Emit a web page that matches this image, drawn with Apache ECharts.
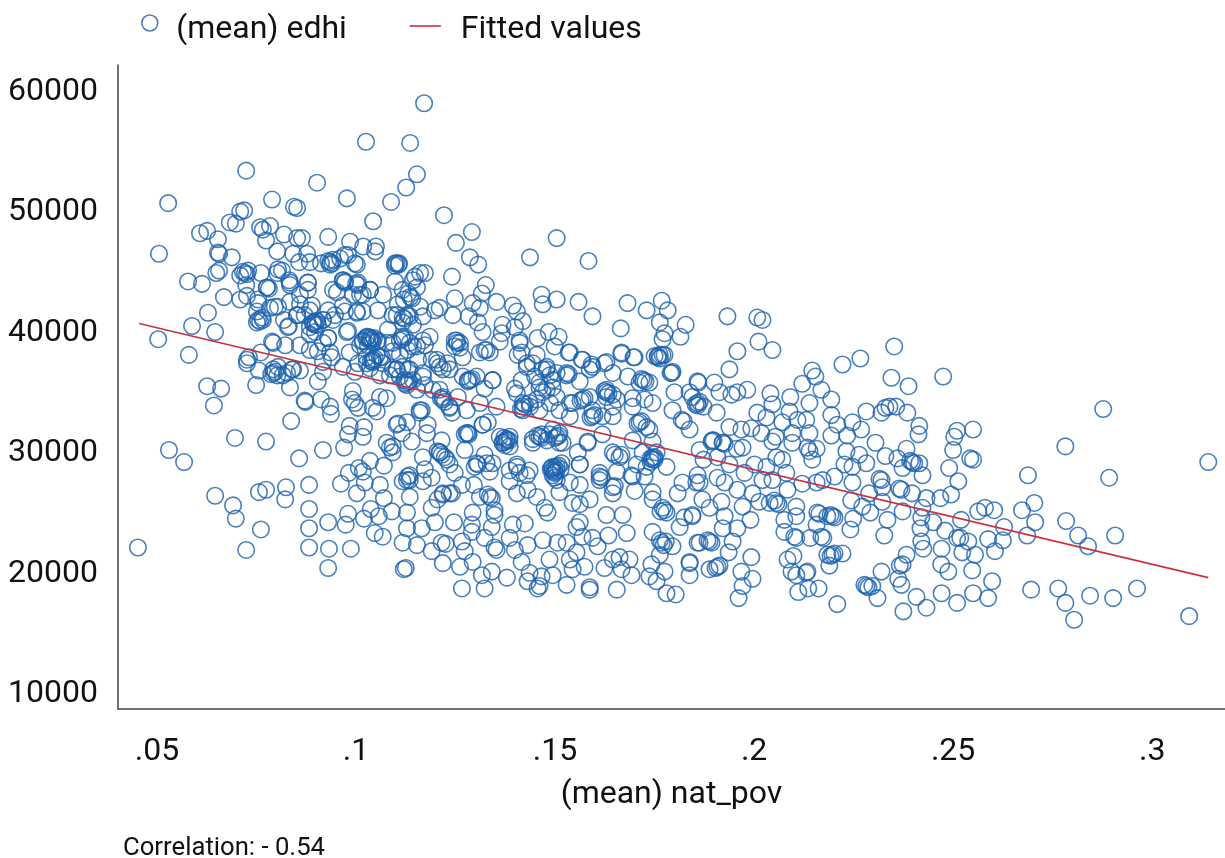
<!DOCTYPE html>
<html><head><meta charset="utf-8">
<style>html,body{margin:0;padding:0;background:#fff}#c{width:1225px;height:858px}</style>
<script src="https://cdn.jsdelivr.net/npm/echarts@6/dist/echarts.min.js"></script></head>
<body><div id="c"></div>
<script>
const xTicks=[.05,.1,.15,.2,.25,.3];
const yTicks=[10000,20000,30000,40000,50000,60000];
const fitted=[[.0455,40600],[.3141,19500]];
const farLeft=[[.0452,22000],[.0503,39300],[.0505,46400],[.0528,50600],[.053,30100],[.0568,29100],[.0578,44100],[.058,38000],[.0588,40400],[.0608,48100],[.0613,43900],[.0626,48300],[.0626,35400],[.0628,41500],[.0646,39900],[.0646,26300],[.0643,33800],[.0653,47600],[.0653,46500],[.0656,46400],[.0656,45000],[.0649,44800],[.0661,35200],[.0668,42800],[.0691,25500],[.0688,46100],[.0696,31100],[.0698,24400],[.0683,49000],[.0698,48900],[.0709,49900],[.0719,50000],[.0724,21800],[.0724,53300]];
const topLeft=[[.0759,48600],[.0766,48400],[.0784,48700],[.0774,47500],[.0789,50900],[.0819,48000],[.0844,50300],[.0852,50200],[.0852,47700],[.0864,47700],[.0902,52300],[.093,47800],[.0802,46600],[.0842,46400],[.0877,46400],[.0857,45700],[.0884,45700],[.0912,45600],[.0942,45900],[.0935,45500],[.096,46000],[.098,46300],[.0997,45600],[.0985,47400],[.1018,47000],[.105,47000],[.1048,46600],[.0977,51000],[.1025,55700],[.1136,55600],[.1088,50700],[.1126,51900],[.1043,49100],[.1153,53000],[.1171,58900],[.1098,45600],[.1108,45600],[.1098,45400],[.1098,44100],[.0709,44600],[.0729,45000],[.0724,43800],[.0761,44800],[.0776,43600],[.0802,44800],[.0814,45000],[.0832,44200],[.0834,43800],[.0879,44000],[.0879,43400],[.0942,43400],[.0967,44200],[.0972,44000],[.1005,43800],[.1035,43400],[.1068,43000],[.1131,43100],[.1148,44500],[.1161,44800],[.1173,44800],[.0709,42600],[.0726,42900],[.0751,41600],[.0819,40900],[.0834,42400],[.0859,42200],[.0871,41300],[.093,41700],[.0972,41600],[.101,43000],[.1055,41700],[.108,40100],[.0859,38800],[.0884,39700]];
const leftMid=[[.0756,26600],[.0774,26800],[.0761,23500],[.0774,30800],[.0749,35500],[.0726,37300],[.0731,37800],[.0756,36700],[.0761,38200],[.0789,39100],[.0792,39000],[.0822,38800],[.0834,35300],[.0792,36800],[.0804,37000],[.0802,36300],[.0816,36300],[.0839,36800],[.0859,36700],[.0871,34200],[.0873,34100],[.0912,34300],[.0935,33700],[.0937,33100],[.0904,35800],[.0917,36600],[.0884,38400],[.0904,38300],[.0935,38200],[.0917,37400],[.098,40000],[.0831,40400],[.0852,41300],[.0884,41700],[.0837,32500],[.0857,29400],[.0917,30100],[.097,30300],[.0824,27000],[.0822,26000],[.0882,27200],[.0882,25200],[.0882,23600],[.0882,22000],[.093,24100],[.0932,21900],[.093,20300],[.0987,21900],[.0962,27300],[.1002,26500],[.0974,23900],[.098,24800],[.102,24400],[.1047,23200],[.1067,22900],[.112,20200],[.107,28800],[.1035,29200],[.1007,28600],[.1017,28300],[.0982,28200],[.1022,27400],[.106,27200],[.107,26100],[.1037,25200],[.1057,24600],[.109,25000],[.0992,35000],[.0997,34000],[.099,34300],[.1005,33600],[.1052,33300],[.1042,33600],[.106,34500],[.1077,34400],[.0984,32100],[.102,32000],[.098,31400],[.1017,31200],[.1105,32300],[.1115,31500],[.1077,30700],[.1092,30400],[.1092,29900],[.1117,27500],[.113,27900]];
const leftDense=[[.0751,40700],[.0764,41100],[.0766,40900],[.0784,41900],[.0804,42000],[.0754,42300],[.0892,40700],[.0904,40500],[.0897,39900],[.0917,40900],[.093,39400],[.0947,41300],[.0967,42100],[.1002,41600],[.1017,41600],[.1027,39500],[.1035,39400],[.1042,39100],[.1055,39200],[.1017,39100],[.103,38800],[.101,38800],[.1052,38000],[.1065,37800],[.1042,37600],[.1027,37300],[.1035,36900],[.1005,37300],[.0997,36600],[.1092,38300],[.1102,41300],[.1117,40700],[.113,41300],[.1117,39300],[.113,38400],[.1102,36800],[.1122,35900],[.113,36800],[.0917,39000],[.0939,37800],[.0967,37000],[.0984,38200],[.112,42600],[.1105,42200],[.1161,42000],[.1143,40500],[.1173,38800],[.1156,37600],[.111,38000],[.1085,36300],[.1173,35500],[.121,35100],[.106,36300]];
const upperMid=[[.1221,49600],[.1291,48200],[.1251,47300],[.1286,46100],[.1307,45500],[.1241,44500],[.1326,43800],[.1316,43100],[.1248,42700],[.1353,42400],[.1293,42300],[.1311,41900],[.1283,41200],[.1243,41300],[.1394,42100],[.1404,41600],[.1419,40800],[.1437,46100],[.1504,47700],[.1584,45800],[.1466,43000],[.1504,42600],[.1469,42200],[.1559,42400],[.1594,41200],[.1682,42300],[.173,41700],[.1768,42500],[.1783,41700],[.1665,40200],[.1763,40700],[.1828,40500],[.1775,39800],[.177,39300],[.1815,39500],[.1484,39900],[.1509,39500],[.1499,38700],[.1456,39400],[.1534,38200],[.1567,37600],[.1624,37300],[.1667,38100],[.1697,37800],[.1645,36500],[.1592,37200],[.1758,37800],[.1763,37700],[.175,37900],[.177,38000],[.1793,36500],[.1858,35800],[.18,34900],[.1725,34300],[.1695,34400],[.1629,34500],[.1529,36300],[.1562,35800],[.1587,36800],[.1479,37000],[.1416,38200],[.1411,39000],[.1368,40500],[.1366,39800],[.1361,39100],[.1399,40300],[.1318,39900],[.1306,40700],[.1261,39000],[.1253,39200],[.1248,38700],[.1185,39500],[.1198,41700],[.121,41900],[.1143,44200],[.1153,43600],[.1136,42800],[.1141,42700],[.1117,43400],[.1143,38700],[.1122,39500],[.1168,41200],[.1135,41200],[.119,37600],[.1205,37300],[.123,37300],[.1268,37800],[.1281,35900],[.1323,38400],[.1336,38200],[.1406,38000],[.1454,38000],[.1429,37300],[.1469,36800],[.145,36200],[.1487,36300],[.1416,35900],[.1461,35300],[.1399,35200],[.1343,35900],[.1323,35200],[.1168,36500],[.1135,36800],[.1218,36800],[.1193,35100],[.1218,34500],[.1256,34500],[.1311,34000],[.1353,33700],[.116,33400],[.1235,33700],[.1278,33400],[.1419,34000],[.1437,33700],[.1469,34900],[.1504,34500],[.1544,34000],[.1587,34500],[.1645,33700],[.1695,33700],[.1745,34000],[.1795,33400],[.1845,34500],[.1594,33400],[.1511,33400]];
const lowerMid=[[.116,33200],[.1128,32400],[.118,32200],[.114,30800],[.1215,30900],[.1168,29500],[.1211,29900],[.1235,28900],[.1223,29500],[.1248,28200],[.1173,28500],[.1135,28000],[.119,27800],[.1168,27500],[.1128,27600],[.1266,27200],[.1296,27200],[.1298,28700],[.1306,28900],[.1336,28300],[.1323,29700],[.1343,29000],[.1273,30100],[.1281,31500],[.1273,31400],[.1318,32200],[.1331,32400],[.1379,31000],[.1385,30900],[.1372,31100],[.1368,30700],[.1386,30400],[.1404,28900],[.1411,28200],[.1444,31000],[.1466,31400],[.1486,31400],[.1511,31500],[.1519,30700],[.1499,28200],[.1504,28400],[.1494,28000],[.1499,27800],[.1491,28600],[.1504,27600],[.1429,28000],[.1386,27500],[.1404,26500],[.1431,26800],[.1454,26200],[.1336,26200],[.1331,26400],[.1341,26100],[.1348,25100],[.1311,26200],[.1235,26500],[.1218,26400],[.1205,26000],[.119,25300],[.1198,24100],[.1246,24100],[.1293,24900],[.1291,23900],[.1348,24700],[.1341,23700],[.1394,23900],[.1424,24000],[.1135,26200],[.1128,24900],[.1128,23600],[.1165,23600],[.1153,22200],[.1117,22400],[.1125,20300],[.119,21700],[.1215,22400],[.1225,22300],[.1218,20700],[.1266,22500],[.1273,21700],[.1261,20400],[.1293,20800],[.1266,18600],[.1323,18600],[.1316,19700],[.1341,20000],[.1379,19500],[.1353,21800],[.1348,22000],[.1323,22800],[.1291,23300],[.1386,22800],[.1399,21800],[.1416,20800],[.1431,22200],[.1469,22600],[.1486,21000],[.1436,19900],[.1431,19200],[.1466,19600],[.1461,18800],[.1456,18600],[.1494,19700],[.1529,18900],[.1506,22400],[.1529,22400],[.1554,21600],[.1537,21000],[.1544,20200],[.1574,20400],[.1587,18500],[.1587,18700],[.1655,18500],[.1624,20300],[.1645,21000],[.1662,21200],[.1667,20200],[.1692,19700],[.1687,21000],[.1607,22100],[.1594,22800],[.1569,22900],[.1554,23700],[.1562,24100],[.1481,24900],[.1474,25300],[.1629,24700],[.167,24700],[.168,23200],[.1634,23000],[.1544,25700],[.1587,26000],[.1562,25600],[.1511,26600],[.1645,26500],[.165,27100],[.1612,28200],[.1612,27600],[.17,26700],[.1537,27400],[.1562,27200],[.1692,28000],[.1655,28300],[.1562,28900],[.1557,29900],[.1645,29900],[.1662,29500],[.1582,30700],[.1619,31400],[.1705,28900],[.172,29900],[.1745,30800],[.1745,29300],[.174,29100],[.175,29500],[.1755,29900],[.178,28700],[.1725,27900],[.1745,26600],[.1745,26000],[.1775,25100],[.177,25300],[.178,24900],[.1765,25000],[.1808,26500],[.182,27400],[.1855,27400],[.1768,22400],[.1763,22600],[.1773,22200],[.1778,22500],[.1745,23300],[.1795,22100],[.1813,23700],[.1825,24500],[.1845,24700],[.1763,21400],[.1742,20600],[.1737,19600],[.1755,19200],[.1775,20000],[.1838,20800],[.1838,19700],[.178,18200],[.1803,18100],[.1858,22400]];
const rightUpper=[[.1933,41200],[.2008,41100],[.2021,40900],[.2011,39100],[.2046,38400],[.1958,38300],[.1938,36800],[.186,35700],[.19,35700],[.2352,38700],[.2267,37700],[.2222,37200],[.2345,36100],[.2388,35400],[.2146,36700],[.2154,36200],[.2121,35600],[.2169,35100],[.2091,34500],[.2041,34800],[.1983,35100],[.1958,34900],[.1943,34700],[.2046,33900],[.2194,34300],[.2139,34000],[.2089,33300],[.2008,33200],[.2131,32600],[.2109,32600],[.2031,32800],[.2071,32400],[.1993,31900],[.1938,32000],[.1968,31800],[.2018,31500],[.2194,33000],[.2209,32200],[.2194,31300],[.2139,31500],[.2096,31500],[.2054,31200],[.2046,30800],[.2096,30700],[.2234,31300],[.2247,32400],[.2269,31800],[.2282,33300],[.232,33200],[.234,33700],[.233,33600],[.2357,33700],[.2385,33200],[.2415,32100],[.2413,31400],[.2305,30700],[.2383,30200],[.2232,30000],[.233,29600],[.236,29400],[.2397,29100],[.2392,29200],[.2402,29000],[.2415,29000],[.2373,28600],[.2423,28000],[.2264,29700],[.2282,29000],[.2227,28900],[.2247,28700],[.2202,27900],[.2247,27400],[.2172,27600],[.2157,27400],[.2121,27300],[.2146,29300],[.2157,30200],[.2139,30000],[.2134,30300],[.2081,28200],[.2071,29300],[.2056,29500],[.2031,28700],[.2001,28900],[.1976,28200],[.2046,27600],[.2021,27600],[.1971,30300],[.1956,30200],[.1921,30700],[.1926,30600],[.1895,30900],[.1863,30100],[.1938,28900],[.1908,27800],[.1858,28000],[.1926,27400],[.1863,27400]];
const rightLower=[[.1958,26800],[.2084,26800],[.1996,26500],[.2013,25800],[.2056,25700],[.2051,25900],[.2061,25600],[.2039,25700],[.2106,25400],[.1918,25800],[.187,26000],[.1888,25300],[.1971,25400],[.1926,24600],[.1991,24300],[.1958,23600],[.1921,23600],[.1845,24600],[.2076,24300],[.2106,24600],[.2159,24900],[.2164,24800],[.2197,24600],[.2202,24500],[.2192,24700],[.2184,24600],[.2157,23900],[.2076,23300],[.2101,22900],[.2106,22800],[.2141,22800],[.2169,22900],[.2174,22800],[.2242,23500],[.2249,24400],[.2244,25900],[.2272,25400],[.2292,24900],[.2335,24300],[.2327,23000],[.2289,26500],[.2322,25800],[.232,27600],[.2315,27700],[.2322,27000],[.237,26800],[.2365,26900],[.2397,26500],[.2373,25000],[.2433,26100],[.2423,25300],[.242,24500],[.245,24100],[.2418,23600],[.242,22500],[.2425,21900],[.248,23400],[.2471,21900],[.2383,21400],[.2373,20600],[.2366,20500],[.232,20000],[.2362,19400],[.237,18900],[.2282,18800],[.2277,18900],[.2287,18700],[.2297,18800],[.231,17800],[.2408,17900],[.2471,18200],[.2433,17000],[.2375,16700],[.2209,17300],[.2162,18600],[.2136,18600],[.2111,18300],[.2131,19900],[.2134,20000],[.2106,19700],[.2094,20000],[.2084,21000],[.2099,21300],[.2184,21400],[.2197,21400],[.2202,21500],[.2192,21300],[.2222,21500],[.2189,20500],[.1993,21200],[.1946,22500],[.1936,21600],[.1888,22500],[.1883,22600],[.1893,22400],[.1863,22400],[.1968,20000],[.1996,19400],[.1971,18800],[.1961,17800],[.1908,20400],[.1903,20300],[.1913,20500],[.1888,20200],[.1838,20700]];
const farRight=[[.2475,36200],[.251,31700],[.2503,31200],[.255,31800],[.25,30100],[.2543,29400],[.255,29300],[.249,28600],[.2513,27500],[.2468,26100],[.2495,26400],[.252,24300],[.2563,25000],[.258,25300],[.2603,25100],[.2628,23700],[.2588,22700],[.2605,21700],[.2625,22600],[.2555,21400],[.2538,22500],[.2518,22800],[.251,22800],[.2523,21600],[.2548,20100],[.2598,19200],[.2588,17800],[.255,18200],[.251,17400],[.247,20600],[.2488,20000],[.3141,29100],[.2877,33500],[.2892,27800],[.2782,30400],[.2688,28000],[.2704,25700],[.2673,25100],[.2706,24100],[.2686,23000],[.2784,24200],[.2814,23000],[.2839,22100],[.2907,23000],[.2696,18500],[.2764,18600],[.2782,17400],[.2804,16000],[.2844,18000],[.2902,17800],[.2962,18600],[.3093,16300]];
const coreLeft=[[.1254,39000],[.1248,39200],[.1261,38600],[.1444,37300],[.1479,36800],[.1429,37000],[.1461,35700],[.1419,33700],[.1414,33500],[.1424,33900],[.1419,33400],[.1436,34000],[.1454,34300],[.1461,33400],[.1487,34000],[.1404,34800],[.1479,35100],[.1494,35900],[.1494,28400],[.1489,28500],[.1499,28300],[.1494,28700],[.1386,28400],[.1436,28400],[.1374,30800],[.1379,30900],[.1369,30700],[.1374,30500],[.1386,31200],[.1361,31200],[.1461,31200],[.1466,31100],[.1456,31300],[.1479,30900],[.1444,30700],[.1494,31800],[.1218,34300],[.1223,34100],[.1213,34400],[.1235,33600],[.1128,35700],[.1123,35600],[.1133,35800],[.1128,35500],[.1143,35900],[.111,36200],[.1168,36200],[.1153,35100],[.121,37000],[.1235,36800],[.1203,37600],[.1286,35900],[.1281,35800],[.1291,36000],[.1303,36200],[.1268,36200],[.1343,35900],[.1135,39000],[.1153,38700],[.111,39200],[.1328,38400],[.1311,38200],[.1168,39200],[.121,29900],[.1215,29700],[.1205,30000],[.1228,29300],[.1328,29000],[.1303,29000],[.1404,28700],[.1085,30300],[.1135,27600],[.1278,31500],[.1283,31400],[.1318,32200],[.1178,31500],[.1102,32200],[.1165,33400],[.1241,33200],[.1411,39200],[.1077,39000],[.1067,37300],[.1102,36800],[.1218,26500],[.1241,26500]];
const coreRight=[[.1504,36500],[.1529,36500],[.1534,36400],[.1494,35300],[.1569,34300],[.1564,34200],[.1574,34400],[.1537,34000],[.1629,34900],[.1624,35000],[.1634,34800],[.1629,35100],[.1645,34700],[.1655,34300],[.1594,32900],[.1589,32800],[.1599,33000],[.1619,32900],[.1645,32900],[.1537,32900],[.1712,32400],[.1707,32300],[.1717,32500],[.173,32000],[.1737,31800],[.1722,35900],[.1717,36000],[.1727,35800],[.1712,35700],[.1737,35700],[.1795,36600],[.179,36500],[.1763,38000],[.1758,37900],[.1775,38000],[.1858,34000],[.1853,33900],[.1863,34100],[.1858,33800],[.1873,33700],[.1838,34900],[.1906,33200],[.1913,34900],[.1818,32600],[.1823,32500],[.1838,31800],[.1504,31200],[.1499,31100],[.1509,31300],[.1511,30700],[.1504,28700],[.1509,28800],[.1499,28600],[.1514,28500],[.1516,29000],[.1745,29500],[.175,29300],[.174,29400],[.173,28700],[.1612,27900],[.1617,27800],[.1645,27000],[.1898,30900],[.1893,30800],[.1921,30700],[.1873,29300],[.1908,29500],[.165,29700],[.1667,29700],[.1582,30800],[.1562,28900],[.1695,30900],[.1695,27900],[.1569,37600],[.1594,37000],[.1537,38200],[.1629,37400],[.1667,38200],[.17,37800],[.1683,36200]];
const clusterLeft=[[.0897,40700],[.0892,40600],[.0902,40800],[.0897,40500],[.0884,40300],[.0917,40900],[.0942,40900],[.0977,39900],[.093,39400],[.1035,39400],[.103,39500],[.104,39300],[.1035,39200],[.1045,39400],[.1025,39400],[.1052,39100],[.1017,39200],[.1042,37600],[.1037,37500],[.1047,37700],[.1042,37400],[.106,37800],[.1027,37800],[.0967,44200],[.0972,44100],[.1005,44000],[.1,43900],[.0992,43000],[.1017,43000],[.0952,43200],[.1035,43400],[.0935,45700],[.093,45800],[.094,45600],[.0972,46300],[.1002,45500],[.0776,43600],[.0781,43500],[.0721,44800],[.0716,44900],[.0726,44700],[.0754,42600],[.0796,42000],[.0754,40900],[.0759,40800],[.0804,45100],[.0834,44000],[.0879,44000],[.0859,43000],[.0829,40300],[.0852,41300],[.0889,42100],[.1002,41500],[.1092,41300],[.1117,41100],[.1122,41000],[.1102,45600],[.1107,45500],[.0792,36500],[.0787,36400],[.0797,36600],[.0827,36500],[.0842,36800],[.0726,37600],[.1092,36800],[.1117,37000],[.1092,39000],[.1115,39500]];
const points=[].concat(farLeft,topLeft,leftMid,leftDense,upperMid,lowerMid,rightUpper,rightLower,farRight,coreLeft,coreRight,clusterLeft);
const blue='#1c62ae',red='#c9323f',ink='#111111',font='Roboto';
const circleIcon='path://M0,8a8,8 0 1,0 16,0a8,8 0 1,0 -16,0Z M8,30L8,30 M8,0L8,0';
const lineIcon='path://M0,10.2H31V11.8H0Z M0,0L0,0 M31,30L31,30';
const chart=echarts.init(document.getElementById('c'),null,{renderer:'canvas'});
chart.setOption({
 animation:false,backgroundColor:'#fff',
 title:{text:'Correlation: - 0.54',left:118,top:831,textStyle:{fontFamily:font,fontSize:25.7,fontWeight:400,color:ink}},
 legend:{left:136,top:9,itemWidth:31,itemHeight:30,itemGap:63,
  textStyle:{fontFamily:font,fontSize:32,color:ink,padding:[0,0,0,6]},
  data:[{name:'(mean) edhi',icon:circleIcon,itemStyle:{color:'rgba(0,0,0,0)',borderColor:blue,borderWidth:1.6}},
        {name:'Fitted values',icon:lineIcon,itemStyle:{color:red,borderWidth:0},textStyle:{padding:[0,0,0,15]}}]},
 grid:{left:118,right:0,top:65,bottom:149},
 xAxis:{type:'value',min:.0402,max:.3183,name:'(mean) nat_pov',nameLocation:'middle',nameGap:70,
  nameTextStyle:{fontFamily:font,fontSize:32,color:ink},splitLine:{show:false},
  axisLine:{show:true,onZero:false,lineStyle:{color:'#444',width:1.5}},axisTick:{show:false},
  axisLabel:{customValues:xTicks,fontFamily:font,fontSize:32,color:ink,margin:27,
   formatter:v=>String(v).replace(/^0/,'')}},
 yAxis:{type:'value',min:8588,max:62076,splitLine:{show:false},
  axisLine:{show:true,onZero:false,lineStyle:{color:'#444',width:1.5}},axisTick:{show:false},
  axisLabel:{customValues:yTicks,fontFamily:font,fontSize:32,color:ink,margin:20,verticalAlign:'top',lineHeight:4,
   formatter:v=>String(v)}},
 series:[
  {name:'(mean) edhi',type:'scatter',data:points,symbol:'circle',symbolSize:16.5,z:2,
   itemStyle:{color:'rgba(0,0,0,0)',borderColor:blue,borderWidth:1.6},emphasis:{disabled:true}},
  {name:'Fitted values',type:'line',data:fitted,symbol:'none',z:3,lineStyle:{color:red,width:1.6},silent:true}
 ]
});
</script></body></html>
